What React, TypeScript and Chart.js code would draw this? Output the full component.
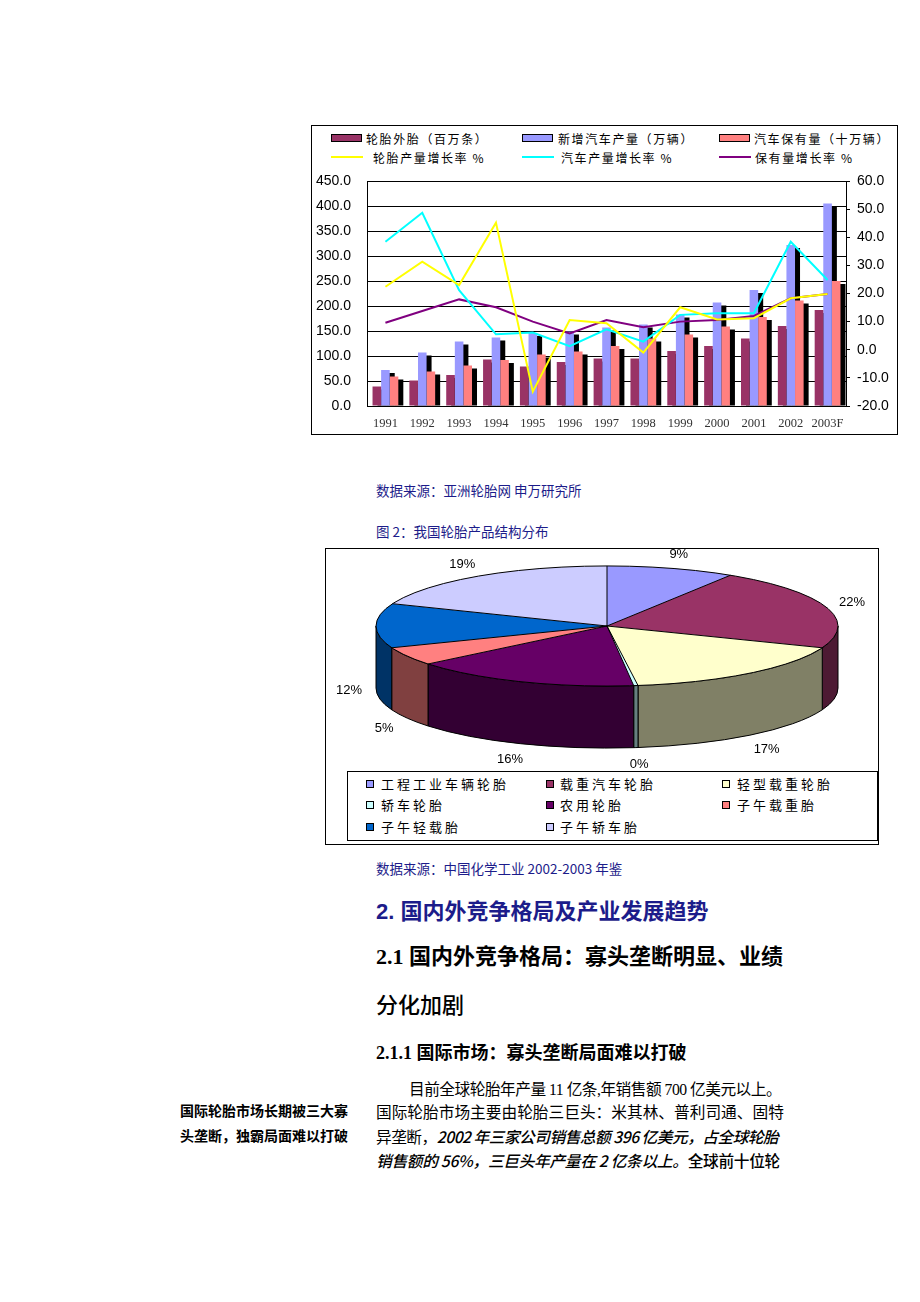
import React, { useEffect, useRef } from "react";
import { Chart, registerables } from "chart.js";

Chart.register(...registerables);

// ---------- Chart 1 data ----------
const years = ["1991", "1992", "1993", "1994", "1995", "1996", "1997", "1998", "1999", "2000", "2001", "2002", "2003F"];
const tireOutput = [39, 51, 62, 93, 79, 88, 95, 95, 110, 120, 135, 160, 192];
const newVehicles = [72, 107, 129, 137, 146, 149, 157, 163, 183, 207, 232, 322, 405];
const vehicleStock = [59, 69, 81, 92, 103, 109, 120, 135, 143, 159, 178, 211, 250];
const tireGrowth = [22.4, 31.3, 23.0, 45.2, -14.9, 10.6, 9.4, -1.0, 15.1, 10.8, 11.2, 18.3, 19.8];
const vehicleGrowth = [38.4, 48.7, 21.2, 5.5, 6.1, 1.3, 7.3, 2.9, 12.4, 13.0, 13.0, 38.4, 24.8];
const stockGrowth = [9.6, 13.8, 17.9, 15.1, 10.0, 5.8, 10.6, 8.0, 10.0, 10.6, 12.0, 18.3, 19.8];

const barLabels = ["轮胎外胎（百万条）", "新增汽车产量（万辆）", "汽车保有量（十万辆）"];
const lineLabels = ["轮胎产量增长率 %", "汽车产量增长率 %", "保有量增长率 %"];
const barColors = ["#993366", "#9999FF", "#FF8080"];
const lineColors = ["#FFFF00", "#00FFFF", "#800080"];

const leftMin = 0;
const leftMax = 450;
const leftStep = 50;
const rightMin = -20;
const rightMax = 60;
const rightStep = 10;

// ---------- Chart 2 data ----------
const pieCategories = ["工程工业车辆轮胎", "载重汽车轮胎", "轻型载重轮胎", "轿车轮胎", "农用轮胎", "子午载重胎", "子午轻载胎", "子午轿车胎"];
const pieShares = [9, 22, 17, 0.3, 16, 5, 12, 19];
const pieColors = ["#9999FF", "#993366", "#FFFFCC", "#CCFFFF", "#660066", "#FF8080", "#0066CC", "#CCCCFF"];

// ---------- helpers ----------
function darken(hex: string, f: number) {
  const n = parseInt(hex.slice(1), 16);
  const r = Math.round(((n >> 16) & 255) * f);
  const g = Math.round(((n >> 8) & 255) * f);
  const b = Math.round((n & 255) * f);
  return `rgb(${r},${g},${b})`;
}

const barShadowPlugin = {
  id: "barShadow",
  beforeDatasetsDraw(chart: any) {
    const ctx = chart.ctx;
    ctx.save();
    ctx.fillStyle = "#000";
    chart.data.datasets.forEach((_ds: any, i: number) => {
      const meta = chart.getDatasetMeta(i);
      if (meta.type !== "bar") return;
      meta.data.forEach((el: any) => {
        const p = el.getProps(["x", "y", "base", "width"], true);
        const left = p.x - p.width / 2 + 5;
        const top = p.y + 3;
        if (p.base - top > 0) ctx.fillRect(left, top, p.width, p.base - top);
      });
    });
    ctx.restore();
  },
};

const TILT = 0.26;
const DEPTH = 62;
const LABEL_PAD_X = 27;
const LABEL_PAD_Y = 14;
const LABEL_DROP = 65;

const pie3dPlugin = {
  id: "pie3d",
  beforeDatasetsDraw(chart: any) {
    const ctx = chart.ctx;
    const arcs = chart.getDatasetMeta(0).data;
    if (!arcs.length) return;
    const a0 = arcs[0].getProps(["x", "y", "outerRadius"], true);
    const cx = a0.x, cy = a0.y, r = a0.outerRadius, ry = r * TILT;
    ctx.save();
    ctx.lineWidth = 1;
    ctx.strokeStyle = "#000";
    arcs.forEach((a: any, i: number) => {
      const p = a.getProps(["startAngle", "endAngle"], true);
      const s = Math.max(p.startAngle, 0);
      const e = Math.min(p.endAngle, Math.PI);
      if (e <= s) return;
      ctx.beginPath();
      ctx.ellipse(cx, cy, r, ry, 0, s, e, false);
      ctx.ellipse(cx, cy + DEPTH, r, ry, 0, e, s, true);
      ctx.closePath();
      ctx.fillStyle = darken(pieColors[i], 0.5);
      ctx.fill();
      ctx.stroke();
    });
    ctx.restore();
    ctx.save();
    ctx.translate(0, cy);
    ctx.scale(1, TILT);
    ctx.translate(0, -cy);
  },
  afterDatasetsDraw(chart: any) {
    const ctx = chart.ctx;
    ctx.restore();
    const arcs = chart.getDatasetMeta(0).data;
    if (!arcs.length) return;
    const a0 = arcs[0].getProps(["x", "y", "outerRadius"], true);
    const cx = a0.x, cy = a0.y, r = a0.outerRadius, ry = r * TILT;
    ctx.save();
    ctx.lineWidth = 1;
    ctx.strokeStyle = "#000";
    ctx.beginPath();
    ctx.ellipse(cx, cy, r, ry, 0, 0, Math.PI * 2);
    ctx.stroke();
    arcs.forEach((a: any) => {
      const p = a.getProps(["startAngle"], true);
      ctx.beginPath();
      ctx.moveTo(cx, cy);
      ctx.lineTo(cx + r * Math.cos(p.startAngle), cy + ry * Math.sin(p.startAngle));
      ctx.stroke();
    });
    const total = pieShares.reduce((s, v) => s + v, 0);
    ctx.fillStyle = "#000";
    ctx.font = "13px 'Liberation Sans', Arial, sans-serif";
    ctx.textAlign = "center";
    ctx.textBaseline = "middle";
    arcs.forEach((a: any, i: number) => {
      const p = a.getProps(["startAngle", "endAngle"], true);
      const m = (p.startAngle + p.endAngle) / 2;
      const lx = cx + (r + LABEL_PAD_X) * Math.cos(m);
      let ly = cy + (ry + LABEL_PAD_Y) * Math.sin(m);
      if (Math.sin(m) > -0.03) ly += LABEL_DROP;
      ctx.fillText(Math.round((pieShares[i] / total) * 100) + "%", lx, ly);
    });
    ctx.restore();
  },
};

function BarLineChart() {
  const ref = useRef<HTMLCanvasElement>(null);
  useEffect(() => {
    const lineData = [tireGrowth, vehicleGrowth, stockGrowth];
    const barData = [tireOutput, newVehicles, vehicleStock];
    const chart = new Chart(ref.current as HTMLCanvasElement, {
      type: "bar",
      data: {
        labels: years,
        datasets: [
          ...lineData.map((d, i) => ({
            type: "line" as const,
            label: lineLabels[i],
            data: d,
            yAxisID: "y1",
            borderColor: lineColors[i],
            backgroundColor: lineColors[i],
            borderWidth: 2,
            pointRadius: 0,
            tension: 0,
            fill: false,
            order: 0,
          })),
          ...barData.map((d, i) => ({
            type: "bar" as const,
            label: barLabels[i],
            data: d,
            yAxisID: "y",
            backgroundColor: barColors[i],
            borderWidth: 0,
            categoryPercentage: 0.7,
            barPercentage: 1,
            order: 1,
          })),
        ] as any,
      },
      options: {
        animation: false,
        responsive: false,
        events: [],
        layout: { padding: { top: 56, left: 0, right: 0, bottom: 0 } },
        plugins: { legend: { display: false }, tooltip: { enabled: false } },
        scales: {
          x: {
            grid: { display: false, drawTicks: false },
            border: { display: true, color: "#000", width: 1 },
            ticks: {
              autoSkip: false,
              maxRotation: 0,
              padding: 10,
              color: "#333",
              font: { family: "'Liberation Serif', 'Times New Roman', serif", size: 12.5 },
            },
            afterFit: (s: any) => {
              s.height = 29;
            },
          },
          y: {
            position: "left",
            min: leftMin,
            max: leftMax,
            ticks: {
              stepSize: leftStep,
              padding: 16,
              color: "#000",
              font: { family: "'Liberation Sans', Arial, sans-serif", size: 14 },
              callback: (v: any) => Number(v).toFixed(1),
            },
            grid: { color: "#000", lineWidth: 1, drawTicks: false },
            border: { display: true, color: "#000", width: 1 },
            afterFit: (s: any) => {
              s.width = 56;
            },
          },
          y1: {
            position: "right",
            min: rightMin,
            max: rightMax,
            ticks: {
              stepSize: rightStep,
              padding: 7,
              color: "#000",
              font: { family: "'Liberation Sans', Arial, sans-serif", size: 14 },
              callback: (v: any) => Number(v).toFixed(1),
            },
            grid: { drawOnChartArea: false, color: "#000", tickLength: 4 },
            border: { display: true, color: "#000", width: 1 },
            afterFit: (s: any) => {
              s.width = 52;
            },
          },
        },
      } as any,
      plugins: [barShadowPlugin],
    });
    return () => chart.destroy();
  }, []);
  return (
    <canvas
      ref={ref}
      width={587}
      height={310}
      style={{ position: "absolute", left: 311, top: 125, width: 587, height: 310, display: "block" }}
    />
  );
}

function Pie3DChart() {
  const ref = useRef<HTMLCanvasElement>(null);
  useEffect(() => {
    const chart = new Chart(ref.current as HTMLCanvasElement, {
      type: "pie",
      data: {
        labels: pieCategories,
        datasets: [
          {
            data: pieShares,
            backgroundColor: pieColors,
            borderWidth: 0,
            hoverOffset: 0,
            clip: false,
          } as any,
        ],
      },
      options: {
        animation: false,
        responsive: false,
        events: [],
        radius: 231,
        layout: { padding: { left: 11, bottom: 67, top: 0, right: 0 } },
        plugins: { legend: { display: false }, tooltip: { enabled: false } },
      } as any,
      plugins: [pie3dPlugin],
    });
    return () => chart.destroy();
  }, []);
  return (
    <canvas
      ref={ref}
      width={551}
      height={221}
      style={{ position: "absolute", left: 326, top: 549, width: 551, height: 221, display: "block" }}
    />
  );
}

const cjkSans = "'Noto Sans CJK SC', 'Liberation Sans', sans-serif";
const bodySerif = "'Liberation Serif', 'Noto Sans CJK SC', serif";

function Text(props: {
  x: number;
  y: number;
  size: number;
  color?: string;
  weight?: number | string;
  family?: string;
  spacing?: number;
  children: React.ReactNode;
}) {
  const lh = Math.round(props.size * 1.4);
  return (
    <div
      style={{
        position: "absolute",
        left: props.x,
        top: props.y - lh / 2,
        height: lh,
        lineHeight: lh + "px",
        fontSize: props.size,
        color: props.color || "#000",
        fontWeight: props.weight as any,
        fontFamily: props.family || cjkSans,
        letterSpacing: props.spacing ? props.spacing + "px" : undefined,
        whiteSpace: "nowrap",
      }}
    >
      {props.children}
    </div>
  );
}

export default function App() {
  const barLegendTextX = [366, 558, 754];
  const lineLegendTextX = [373, 561, 755];
  const legendSwatchX = [331, 522, 719];
  const pieLegendSwatchX = [366, 546, 722];
  const pieLegendTextX = [381, 560, 737];
  const pieLegendRowY = [784, 805, 827];
  const navy = "#1c1c8a";

  return (
    <div style={{ position: "absolute", left: 0, top: 0, width: 920, height: 1302, background: "#fff", overflow: "hidden" }}>
      {/* Chart 1 frame */}
      <div
        style={{
          position: "absolute",
          left: 311,
          top: 125,
          width: 587,
          height: 310,
          border: "1px solid #000",
          boxSizing: "border-box",
        }}
      />
      {barLabels.map((l, i) => (
        <React.Fragment key={"bl" + i}>
          <div
            style={{
              position: "absolute",
              left: legendSwatchX[i],
              top: 134,
              width: 31,
              height: 8,
              background: barColors[i],
              border: "1px solid #000",
              boxSizing: "border-box",
            }}
          />
          <Text x={barLegendTextX[i]} y={138} size={12} spacing={1.6}>
            {l}
          </Text>
        </React.Fragment>
      ))}
      {lineLabels.map((l, i) => (
        <React.Fragment key={"ll" + i}>
          <div
            style={{
              position: "absolute",
              left: legendSwatchX[i],
              top: 156,
              width: 32,
              height: 2,
              background: lineColors[i],
            }}
          />
          <Text x={lineLegendTextX[i]} y={157} size={12} spacing={1.6}>
            {l}
          </Text>
        </React.Fragment>
      ))}
      <BarLineChart />

      <Text x={376} y={490} size={13.5} color={navy}>
        数据来源：亚洲轮胎网 申万研究所
      </Text>
      <Text x={376} y={531} size={13.5} color={navy}>
        图 2：我国轮胎产品结构分布
      </Text>

      {/* Chart 2 frame */}
      <div
        style={{
          position: "absolute",
          left: 325,
          top: 548,
          width: 554,
          height: 297,
          border: "1px solid #000",
          boxSizing: "border-box",
        }}
      />
      <Pie3DChart />
      <div
        style={{
          position: "absolute",
          left: 347,
          top: 771,
          width: 531,
          height: 70,
          border: "1px solid #000",
          boxSizing: "border-box",
        }}
      />
      {pieCategories.map((c, i) => {
        const col = i % 3;
        const row = Math.floor(i / 3);
        return (
          <React.Fragment key={"pl" + i}>
            <div
              style={{
                position: "absolute",
                left: pieLegendSwatchX[col],
                top: pieLegendRowY[row] - 4,
                width: 8,
                height: 8,
                background: pieColors[i],
                border: "1px solid #000",
                boxSizing: "border-box",
              }}
            />
            <Text x={pieLegendTextX[col]} y={pieLegendRowY[row]} size={13} spacing={3}>
              {c}
            </Text>
          </React.Fragment>
        );
      })}

      <Text x={376} y={868} size={13.5} color={navy}>
        数据来源：中国化学工业 2002-2003 年鉴
      </Text>

      <Text x={376} y={911} size={22} color={navy} weight={700} family={"'Liberation Sans', 'Noto Sans CJK SC', sans-serif"}>
        2. 国内外竞争格局及产业发展趋势
      </Text>
      <Text x={376} y={956} size={22} weight={700} family={"'Liberation Serif', 'Noto Sans CJK SC', serif"}>
        2.1 国内外竞争格局：寡头垄断明显、业绩
      </Text>
      <Text x={376} y={1003} size={22} weight={500}>
        分化加剧
      </Text>
      <Text x={376} y={1053} size={18} weight={700} family={"'Liberation Serif', 'Noto Sans CJK SC', serif"}>
        2.1.1 国际市场：寡头垄断局面难以打破
      </Text>

      <Text x={409} y={1090} size={15.7} family={bodySerif} spacing={-0.5}>
        目前全球轮胎年产量 11 亿条,年销售额 700 亿美元以上。
      </Text>
      <Text x={376} y={1113} size={15.7} family={bodySerif}>
        国际轮胎市场主要由轮胎三巨头：米其林、普利司通、固特
      </Text>
      <Text x={376} y={1137} size={15.7} family={bodySerif} spacing={-0.5}>
        异垄断，
        <span style={{ fontStyle: "italic", fontWeight: 500, fontFamily: cjkSans }}>
          2002 年三家公司销售总额 396 亿美元，占全球轮胎
        </span>
      </Text>
      <Text x={376} y={1161} size={15.7} family={cjkSans} spacing={-0.3}>
        <span style={{ fontStyle: "italic", fontWeight: 500 }}>销售额的 56%，三巨头年产量在 2 亿条以上。</span>
        <span style={{ fontWeight: 500 }}>全球前十位轮</span>
      </Text>

      <Text x={180} y={1110} size={14} weight={700}>
        国际轮胎市场长期被三大寡
      </Text>
      <Text x={180} y={1135} size={14} weight={700}>
        头垄断，独霸局面难以打破
      </Text>
    </div>
  );
}
